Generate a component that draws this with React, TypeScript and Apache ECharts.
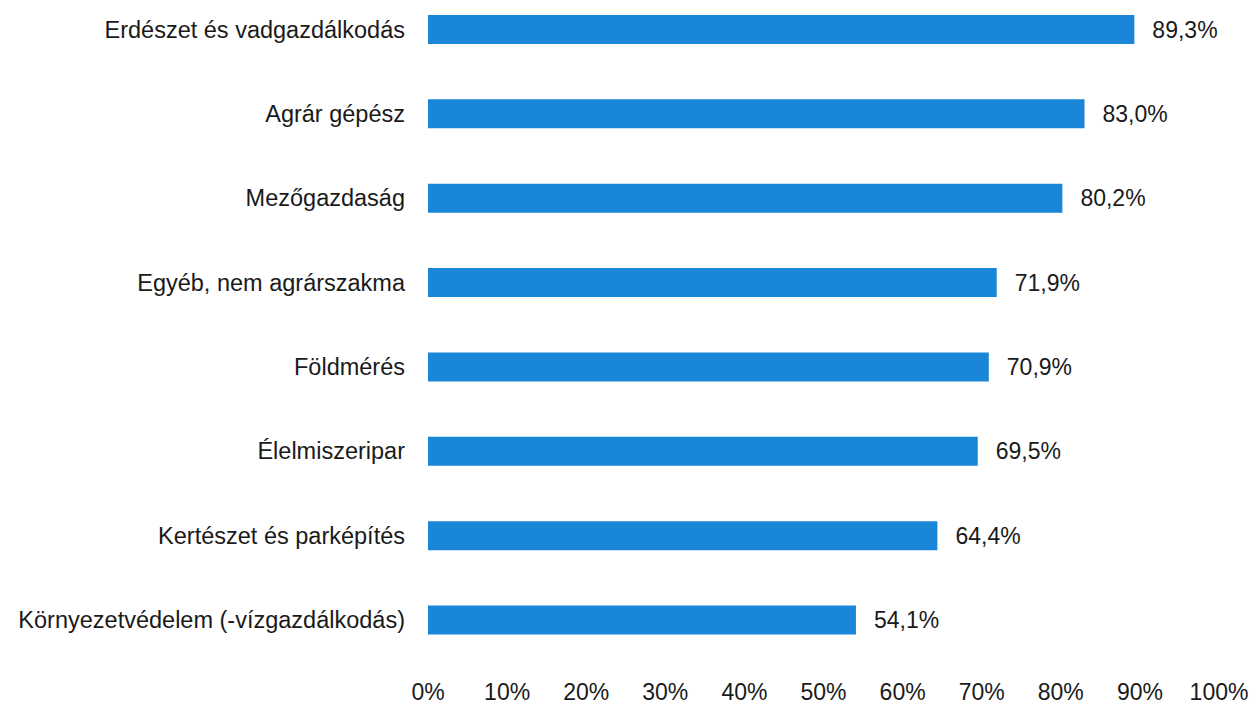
import React, { useEffect, useRef } from "react";
import * as echarts from "echarts";

const categories = [
  "Erdészet és vadgazdálkodás",
  "Agrár gépész",
  "Mezőgazdaság",
  "Egyéb, nem agrárszakma",
  "Földmérés",
  "Élelmiszeripar",
  "Kertészet és parképítés",
  "Környezetvédelem (-vízgazdálkodás)",
];
const values = [89.3, 83.0, 80.2, 71.9, 70.9, 69.5, 64.4, 54.1];
const xTicks = [0, 10, 20, 30, 40, 50, 60, 70, 80, 90, 100];

const FONT = "'Liberation Sans', Arial, sans-serif";

export default function App() {
  const ref = useRef<HTMLDivElement>(null);
  useEffect(() => {
    if (!ref.current) return;
    const chart = echarts.init(ref.current, null, { renderer: "svg" });
    chart.setOption({
      animation: false,
      backgroundColor: "#ffffff",
      grid: { left: 428, right: 41, top: 29.5, height: 593.5, containLabel: false },
      xAxis: {
        type: "value",
        min: xTicks[0],
        max: xTicks[xTicks.length - 1],
        interval: 10,
        axisLine: { show: false },
        axisTick: { show: false },
        splitLine: { show: false },
        axisLabel: {
          formatter: (v: number) => `${v}%`,
          color: "#1a1a1a",
          fontSize: 23,
          fontFamily: FONT,
          margin: 60,
        },
      },
      yAxis: {
        type: "category",
        data: categories,
        inverse: true,
        boundaryGap: false,
        axisLine: { show: false },
        axisTick: { show: false },
        splitLine: { show: false },
        axisLabel: {
          color: "#1a1a1a",
          fontSize: 23.5,
          fontFamily: FONT,
          margin: 23,
        },
      },
      series: [
        {
          type: "bar",
          data: values,
          barWidth: 29,
          itemStyle: { color: "#1a86d8" },
          label: {
            show: true,
            position: "right",
            distance: 18,
            color: "#1a1a1a",
            fontSize: 23,
            fontFamily: FONT,
            formatter: (p: any) => `${p.value.toFixed(1).replace(".", ",")}%`,
          },
        },
      ],
    });
    return () => chart.dispose();
  }, []);
  return (
    <div
      ref={ref}
      style={{ position: "fixed", left: 0, top: 0, width: 1260, height: 703, background: "#fff" }}
    />
  );
}
